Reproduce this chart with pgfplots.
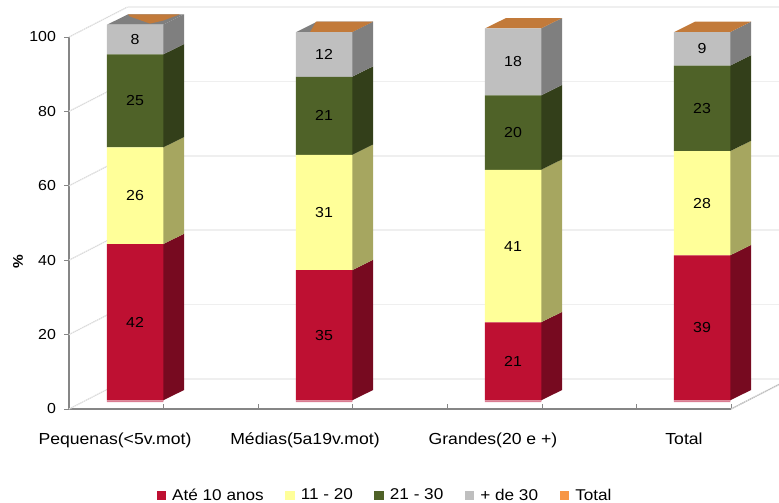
\documentclass[border=0pt]{standalone}
\usepackage{fontspec}
\setmainfont[FakeStretch=1.1]{Liberation Sans}
\usepackage{pgfplots}
\usepackage{pgfplotstable}
\pgfplotsset{compat=1.18}

% share of firms by age band, per size class (x = centre of the bar's front face)
\pgfplotstableread{
x   base stripe ate  b11 b21 b30
135 1.85 0.45   42   26  25  8
324 1.85 0.45   35   31  21  12
513 1.85 0.45   21   41  20  18
702 1.85 0.45   39   28  23  9
}\firmdata

\definecolor{cRed}{HTML}{BE1032}
\definecolor{cRedS}{HTML}{770A20}
\definecolor{cRedL}{HTML}{DA7C92}
\definecolor{cYel}{HTML}{FFFF99}
\definecolor{cYelS}{HTML}{A6A660}
\definecolor{cOli}{HTML}{4F6228}
\definecolor{cOliS}{HTML}{333F1A}
\definecolor{cGry}{HTML}{BFBFBF}
\definecolor{cGryS}{HTML}{7F7F7F}
\definecolor{cTop}{HTML}{C27A3A}
\definecolor{cTotal}{HTML}{F79646}
\definecolor{cAxis}{HTML}{868686}
\definecolor{cWall}{HTML}{EFEFEF}

\newcommand\ybase{2.3}
\newcommand\ddx{21}
\newcommand\ddy{2.8}

% one side face of a segment of a bar
\newcommand\sideface[4]{%
  \pgfmathsetmacro\xa{#1+28}\pgfmathsetmacro\xb{#1+28+\ddx}%
  \pgfmathsetmacro\ya{#2}\pgfmathsetmacro\yb{#3}%
  \pgfmathsetmacro\yaa{#2+\ddy}\pgfmathsetmacro\ybb{#3+\ddy}%
  \edef\doit{\noexpand\addplot[fill=#4,draw=none] coordinates
    {(\xa,\ya)(\xb,\yaa)(\xb,\ybb)(\xa,\yb)} -- cycle;}\doit}

% the four side faces of a bar and its top face
\newcommand\barsides[6]{%
  \pgfmathsetmacro\ca{\ybase+#2}\pgfmathsetmacro\cb{\ca+#3}%
  \pgfmathsetmacro\cc{\cb+#4}\pgfmathsetmacro\cd{\cc+#5}%
  \sideface{#1}{\ybase}{\ca}{cRedS}%
  \sideface{#1}{\ca}{\cb}{cYelS}%
  \sideface{#1}{\cb}{\cc}{cOliS}%
  \sideface{#1}{\cc}{\cd}{cGryS}%
  \pgfmathsetmacro\xl{#1-28}\pgfmathsetmacro\xr{#1+28}%
  \pgfmathsetmacro\xlb{\xl+\ddx}\pgfmathsetmacro\xrb{\xr+\ddx}%
  \pgfmathsetmacro\yt{\cd+\ddy}%
  \edef\doit{\noexpand\addplot[fill=#6,draw=none] coordinates
    {(\xl,\cd)(\xr,\cd)(\xrb,\yt)(\xlb,\yt)} -- cycle;}\doit}

\begin{document}
\begin{tikzpicture}[x=1pt,y=1pt]
\useasboundingbox (0,0) rectangle (779,503);

\begin{axis}[
  at={(69pt,94pt)}, anchor=south west,
  width=662pt, height=372pt, scale only axis,
  xmin=69, xmax=731, ymin=0, ymax=100,
  clip=false,
  axis x line*=bottom, axis y line*=left,
  axis line style={-,draw=cAxis,line width=1.5pt},
  xtick={69,163.6,258.1,352.7,447.3,541.9,636.4,731},
  xticklabels={},
  xtick align=inside, ytick align=outside,
  major tick length=4.5pt,
  tick style={draw=cAxis,line width=0.8pt},
  xtick pos=bottom, ytick pos=left,
  ytick={0,20,40,60,80,100},
  extra x ticks={115,305,493,684},
  extra x tick labels={Pequenas(<5v.mot),Médias(5a19v.mot),Grandes(20 e +),Total},
  extra x tick style={major tick length=0pt,tick style={draw=none},
    tick label style={yshift=-20pt,font=\fontsize{16}{18}\selectfont}},
  y tick label style={xshift=-5pt,font=\fontsize{14.5}{18}\selectfont},
  /pgf/number format/assume math mode=true,
  ylabel={\textbf{\%}},
  ylabel style={at={(axis description cs:-0.077,0.395)},anchor=center,
    font=\fontsize{14}{16}\selectfont},
]
% back wall grid and the receding lines on the side wall
\pgfplotsinvokeforeach{0,20,40,60,80,100}{
  \addplot[cWall,line width=1.6pt] coordinates {(127.5,#1+8.06)(779,#1+8.06)};
  \addplot[black!14,line width=1.2pt,dash pattern=on 1.5pt off 0.6pt]
    coordinates {(69,#1)(127.5,#1+8.06)};
}
\addplot[black!25,line width=1.4pt,dash pattern=on 1.5pt off 0.6pt]
  coordinates {(731,0)(779,6.6)};

% side and top faces of the bars
\barsides{135}{42}{26}{25}{8}{cGryS}
\barsides{324}{35}{31}{21}{12}{cGryS}
\barsides{513}{21}{41}{20}{18}{cTop}
\barsides{702}{39}{28}{23}{9}{cTop}

% orange part of the first two top faces
\addplot[fill=cTop,draw=none] coordinates
  {(128,106.1)(180,106.1)(163,104.4)(150,103.6)(130,105.5)} -- cycle;
\addplot[fill=cTop,draw=none] coordinates
  {(316,104.1)(373,104.1)(352,101.3)(310,101.3)} -- cycle;
\end{axis}

% front faces, with value labels and the legend
\begin{axis}[
  at={(69pt,94pt)}, anchor=south west,
  width=662pt, height=372pt, scale only axis,
  xmin=69, xmax=731, ymin=0, ymax=100,
  clip=false, hide axis,
  ybar stacked, bar width=56.5,
  legend columns=5,
  legend style={draw=none,fill=none,at={(0.4775,-0.232)},anchor=center,
    font=\fontsize{15.6}{18}\selectfont,
    /tikz/every even column/.append style={column sep=19.5pt},
    inner sep=0pt},
  legend image code/.code={\fill[#1,draw=none] (0pt,-4.5pt) rectangle (9.5pt,4.5pt);
    \path (13.5pt,0pt);},
  seg/.style n args={2}{fill=#1,draw=none,
    nodes near coords,
    point meta=\thisrow{#2},
    every node near coord/.style={anchor=center,inner sep=0pt,text=black,
      font=\fontsize{14.5}{18}\selectfont},
    /pgf/number format/assume math mode=true},
]
\addplot[fill=none,draw=none,forget plot] table[x=x,y=base] {\firmdata};
\addplot[fill=cRedL,draw=none,forget plot] table[x=x,y=stripe] {\firmdata};
\addplot[seg={cRed}{ate}] table[x=x,y=ate] {\firmdata};
\addlegendentry{Até 10 anos}
\addplot[seg={cYel}{b11}] table[x=x,y=b11] {\firmdata};
\addlegendentry{11 - 20}
\addplot[seg={cOli}{b21}] table[x=x,y=b21] {\firmdata};
\addlegendentry{21 - 30}
\addplot[seg={cGry}{b30}] table[x=x,y=b30] {\firmdata};
\addlegendentry{+ de 30}
\addlegendimage{fill=cTotal}
\addlegendentry{Total}
\end{axis}
\end{tikzpicture}
\end{document}
